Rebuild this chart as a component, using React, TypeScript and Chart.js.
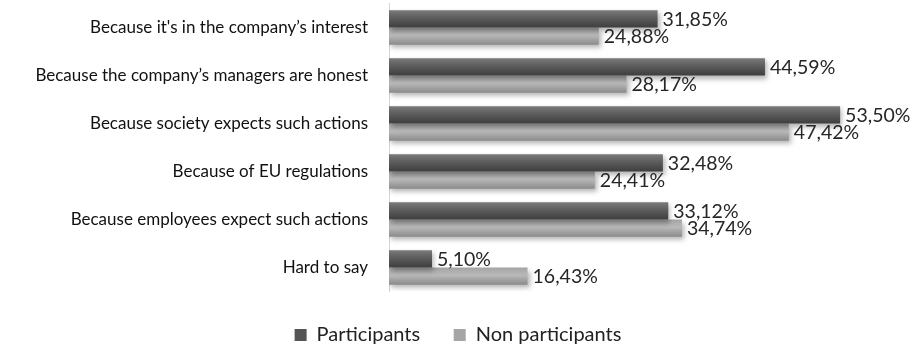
import React, { useEffect, useRef } from "react";
import { Chart, registerables } from "chart.js";

Chart.register(...registerables);

const categories = [
  "Because it's in the company\u2019s interest",
  "Because the company\u2019s managers are honest",
  "Because society expects such actions",
  "Because of EU regulations",
  "Because employees expect such actions",
  "Hard to say",
];
const participants = [31.85, 44.59, 53.5, 32.48, 33.12, 5.1];
const nonParticipants = [24.88, 28.17, 47.42, 24.41, 34.74, 16.43];
const seriesNames = ["Participants", "Non participants"];

const CAT_PCT = 0.72;
const FONT = "Lato";

function fmt(v: number) {
  return v.toFixed(2).replace(".", ",") + "%";
}

function gradientFor(ctx: any, ds: number, stops: string[]) {
  const chart = ctx.chart;
  const y = chart.scales && chart.scales.y;
  if (!y || !chart.chartArea || ctx.dataIndex === undefined) return stops[1];
  const c = y.getPixelForValue(ctx.dataIndex);
  const step = Math.abs(y.getPixelForValue(1) - y.getPixelForValue(0));
  const half = (step * CAT_PCT) / 2;
  const top = ds === 0 ? c - half : c;
  const bottom = ds === 0 ? c : c + half;
  if (!isFinite(top) || !isFinite(bottom)) return stops[1];
  const g = chart.ctx.createLinearGradient(0, top, 0, bottom);
  g.addColorStop(0, stops[0]);
  g.addColorStop(0.45, stops[1]);
  g.addColorStop(1, stops[2]);
  return g;
}

const darkStops = ["#7a7a7a", "#5c5c5c", "#3e3e3e"];
const lightStops = ["#a4a4a4", "#b9b9b9", "#8a8a8a"];

const shadowPlugin = {
  id: "barShadow",
  beforeDatasetsDraw(chart: any) {
    const ctx = chart.ctx;
    ctx.save();
    ctx.shadowColor = "rgba(0,0,0,0.3)";
    ctx.shadowBlur = 5;
    ctx.shadowOffsetX = 2;
    ctx.shadowOffsetY = 3;
  },
  afterDatasetsDraw(chart: any) {
    chart.ctx.restore();
  },
};

const labelPlugin = {
  id: "valueLabels",
  afterDraw(chart: any) {
    const ctx = chart.ctx;
    ctx.save();
    ctx.font = `19.5px ${FONT}`;
    ctx.fillStyle = "#262626";
    ctx.textAlign = "left";
    ctx.textBaseline = "middle";
    chart.data.datasets.forEach((ds: any, i: number) => {
      const meta = chart.getDatasetMeta(i);
      meta.data.forEach((el: any, j: number) => {
        ctx.fillText(fmt(ds.data[j]), el.x + 5, el.y + 1);
      });
    });
    ctx.restore();
  },
};

export default function App() {
  const ref = useRef<HTMLCanvasElement>(null);
  useEffect(() => {
    if (!ref.current) return;
    const chart = new Chart(ref.current, {
      type: "bar",
      data: {
        labels: categories,
        datasets: [
          {
            label: seriesNames[0],
            data: participants,
            backgroundColor: (c: any) => gradientFor(c, 0, darkStops),
            borderWidth: 0,
          },
          {
            label: seriesNames[1],
            data: nonParticipants,
            backgroundColor: (c: any) => gradientFor(c, 1, lightStops),
            borderWidth: 0,
          },
        ],
      },
      options: {
        indexAxis: "y",
        animation: false,
        responsive: true,
        maintainAspectRatio: false,
        layout: { padding: { top: 3.5, right: 0, left: 0, bottom: -9 } },
        datasets: { bar: { categoryPercentage: CAT_PCT, barPercentage: 1 } },
        scales: {
          x: { display: false, min: 0, max: 62.5 },
          y: {
            afterFit(scale: any) {
              scale.width = 389;
              scale.paddingTop = 0;
              scale.paddingBottom = 0;
            },
            grid: { display: false, drawTicks: false },
            border: { display: true, color: "#d4d4d4", width: 1 },
            ticks: {
              padding: 21,
              color: "#111",
              font: { family: FONT, size: 17 },
            },
          },
        },
        plugins: {
          legend: {
            position: "bottom",
            labels: {
              boxWidth: 12,
              boxHeight: 12,
              padding: 33.5,
              color: "#222",
              font: { family: FONT, size: 20 },
              generateLabels(chart: any) {
                const fills = ["#555555", "#a6a6a6"];
                return chart.data.datasets.map((d: any, i: number) => ({
                  text: d.label,
                  fillStyle: fills[i],
                  strokeStyle: fills[i],
                  lineWidth: 0,
                  hidden: false,
                  datasetIndex: i,
                  fontColor: "#222",
                }));
              },
            },
          },
          tooltip: { enabled: false },
        },
      },
      plugins: [shadowPlugin, labelPlugin],
    });
    return () => chart.destroy();
  }, []);
  return (
    <div style={{ position: "fixed", left: 0, top: 0, width: 916, height: 346, background: "#fff" }}>
      <canvas ref={ref} />
    </div>
  );
}
